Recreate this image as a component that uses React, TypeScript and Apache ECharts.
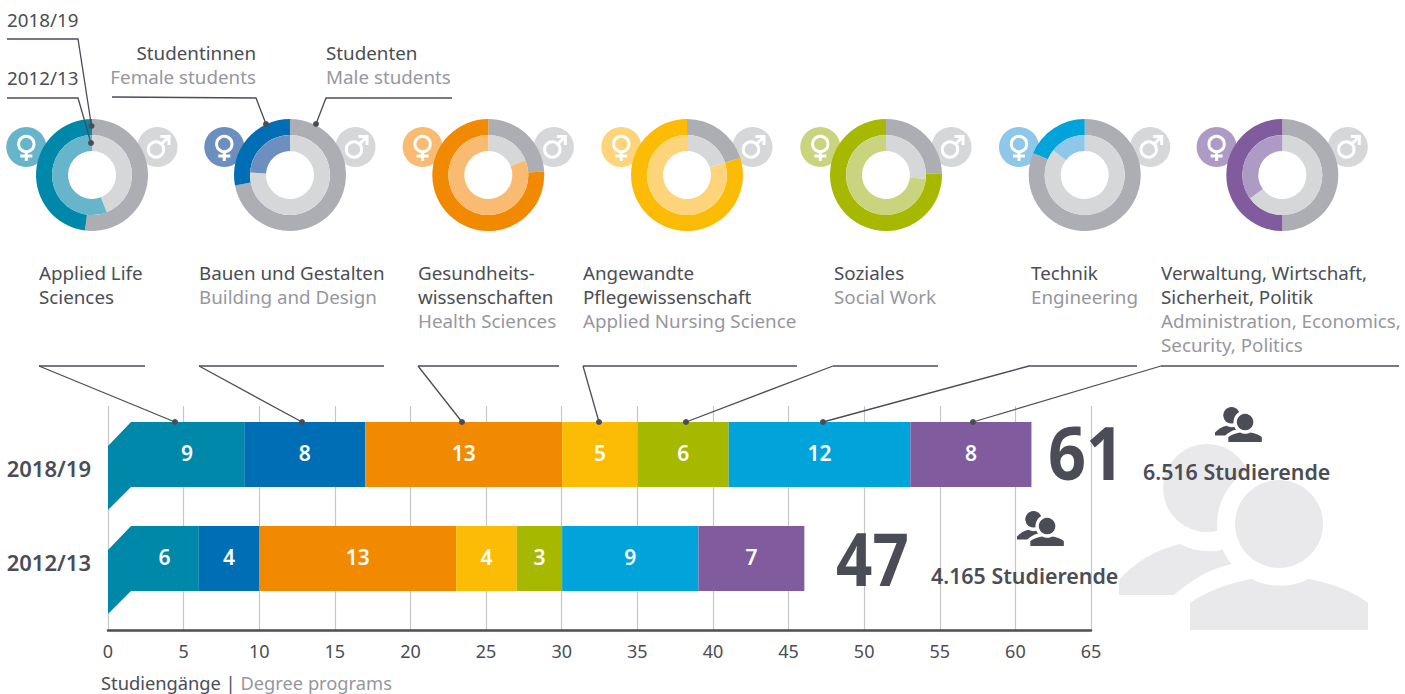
import React, { useEffect, useRef } from "react";
import * as echarts from "echarts";

const years = ["2018/19", "2012/13"];
const totals = ["61", "47"];
const studentCounts = ["6.516 Studierende", "4.165 Studierende"];
const axisTicks = 65;

const programmes = [
  { de: ["Applied Life", "Sciences"], en: [] as string[] },
  { de: ["Bauen und Gestalten"], en: ["Building and Design"] },
  { de: ["Gesundheits-", "wissenschaften"], en: ["Health Sciences"] },
  { de: ["Angewandte", "Pflegewissenschaft"], en: ["Applied Nursing Science"] },
  { de: ["Soziales"], en: ["Social Work"] },
  { de: ["Technik"], en: ["Engineering"] },
  { de: ["Verwaltung, Wirtschaft,", "Sicherheit, Politik"], en: ["Administration, Economics,", "Security, Politics"] },
];
const labelX = [39, 199, 418, 583, 834, 1031, 1161];

const programs2018 = [9, 8, 13, 5, 6, 12, 8];
const programs2012 = [6, 4, 13, 4, 3, 9, 7];
const femaleShare2018 = [48, 28, 76, 80, 75.5, 18.6, 50];
const femaleShare2012 = [56, 24, 81, 80, 73.4, 14.4, 35];

const darkColors = ["#0088ab", "#006eb5", "#f18a00", "#fcbb05", "#a6b900", "#00a3da", "#805c9e"];
const lightColors = ["#66b5cb", "#6d8fbf", "#f9bb72", "#fdd47a", "#cad47f", "#8ec7ea", "#ae9bc5"];
const donutX = [92, 290, 488.3, 687, 886, 1084.7, 1282.3];
const donutY = 175;

const DARK = "#4a4d55";
const GREY = "#96979f";
const FONT = "'Noto Sans', sans-serif";

const backBody = "M1119 595 L1119 580 C1135 562 1155 550 1180 544 C1190 550 1212 554 1223 549 C1226 555 1228 560 1232 564 C1205 570 1190 582 1174 595 Z";
const frontBody = "M1190 630 L1190 603 C1205 592 1228 583 1252 579 C1268 588 1292 588 1308 579 C1332 583 1355 592 1368 603 L1368 630 Z";
echarts.graphic.registerShape("personBack", echarts.graphic.extendPath(backBody, {}));
echarts.graphic.registerShape("personFront", echarts.graphic.extendPath(frontBody, {}));

function txt(x: number, y: number, text: string, fill: string, extra: any = {}, el: any = {}) {
  return {
    type: "text",
    x,
    y,
    z: 20,
    ...el,
    style: { text, fill, font: `400 18.8px ${FONT}`, textAlign: "left", textVerticalAlign: "middle", ...extra },
  };
}

function personIcon(x: number, y: number, s: number, color: string, z: number) {
  return {
    type: "group",
    x: x - 1119 * s,
    y: y - 630 * s,
    scaleX: s,
    scaleY: s,
    children: [
      { type: "circle", z, shape: { cx: 1207, cy: 488, r: 44 }, style: { fill: color } },
      { type: "personBack", z, style: { fill: color } },
      { type: "circle", z: z + 1, shape: { cx: 1279, cy: 524, r: 62 }, style: { fill: "#fff" } },
      { type: "circle", z: z + 2, shape: { cx: 1279, cy: 524, r: 44 }, style: { fill: color } },
      { type: "personFront", z: z + 2, style: { fill: color } },
    ],
  };
}

function leader(points: number[][], dot: boolean = true) {
  const last = points[points.length - 1];
  const out: any[] = [
    { type: "polyline", z: 15, shape: { points }, style: { stroke: DARK, lineWidth: 1.3, fill: null } },
  ];
  if (dot) out.push({ type: "circle", z: 16, shape: { cx: last[0], cy: last[1], r: 3 }, style: { fill: DARK } });
  return out;
}

function genderSymbols(i: number) {
  const fx = donutX[i] - 65.7;
  const mx = donutX[i] + 65.5;
  const cy = 147;
  const stroke = { stroke: "#fff", lineWidth: 3, fill: null };
  return [
    { type: "circle", z: 0, shape: { cx: fx, cy, r: 20 }, style: { fill: lightColors[i] } },
    { type: "circle", z: 1, shape: { cx: fx, cy: cy - 3, r: 7.7 }, style: stroke },
    { type: "line", z: 1, shape: { x1: fx, y1: cy + 5, x2: fx, y2: cy + 14 }, style: stroke },
    { type: "line", z: 1, shape: { x1: fx - 6, y1: cy + 9, x2: fx + 6, y2: cy + 9 }, style: stroke },
    { type: "circle", z: 0, shape: { cx: mx, cy, r: 20 }, style: { fill: "#d6d7d9" } },
    { type: "circle", z: 1, shape: { cx: mx - 1.5, cy: cy + 2.5, r: 7.7 }, style: stroke },
    { type: "line", z: 1, shape: { x1: mx + 4, y1: cy - 3, x2: mx + 11, y2: cy - 10 }, style: stroke },
    { type: "polyline", z: 1, shape: { points: [[mx + 3, cy - 10.5], [mx + 11.5, cy - 10.5], [mx + 11.5, cy - 2]] }, style: stroke },
  ];
}

function programmeLabels() {
  const out: any[] = [];
  programmes.forEach((p, i) => {
    let y = 273;
    p.de.forEach((line) => { out.push(txt(labelX[i], y, line, DARK)); y += 24; });
    p.en.forEach((line) => { out.push(txt(labelX[i], y, line, GREY)); y += 24; });
  });
  return out;
}

const leaderLines = [
  [[39, 366], [145, 366]],
  [[199, 366], [384, 366]],
  [[418, 366], [559, 366]],
  [[583, 366], [797, 366]],
  [[938, 366], [833, 366]],
  [[1137, 366], [1029, 366]],
  [[1399, 366], [1161, 366]],
];
const leaderTargets = [[175, 422], [302, 422], [462, 422], [599, 422], [686, 422], [823, 422], [973, 422]];
const leaderStart = [0, 0, 0, 0, 1, 1, 1];

function flagItem(params: any, api: any) {
  const cat = api.value(1);
  const start = api.coord([0, cat]);
  const end = api.coord([api.value(0), cat]);
  const h = 32.5;
  return {
    type: "polygon",
    shape: {
      points: [
        [start[0], start[1] - h + 24],
        [start[0] + 23, start[1] - h],
        [end[0], start[1] - h],
        [end[0], start[1] + h],
        [start[0] + 23, start[1] + h],
        [start[0], start[1] + h + 23],
      ],
    },
    style: { fill: darkColors[0] },
  };
}

export default function App() {
  const ref = useRef<HTMLDivElement>(null);
  useEffect(() => {
    document.body.style.margin = "0";
    const chart = echarts.init(ref.current!, null, { renderer: "svg" });

    const bars = programmes.map((_, i) => ({
      type: "bar",
      name: programmes[i].de.join(" "),
      xAxisIndex: 1,
      yAxisIndex: 1,
      stack: "total",
      barWidth: 65,
      z: 3,
      silent: true,
      data: [programs2018[i], programs2012[i]],
      itemStyle: { color: i === 0 ? "rgba(0,0,0,0)" : darkColors[i] },
      label: {
        show: true,
        position: "inside",
        offset: i === 0 ? [11, -1.5] : [0, -1.5],
        color: "#fff",
        fontFamily: FONT,
        fontWeight: 600,
        fontSize: 21,
      },
    }));

    const pies: any[] = [];
    programmes.forEach((_, i) => {
      pies.push({
        type: "pie", silent: true, center: [donutX[i], donutY], radius: [40, 56], startAngle: 90, z: 5,
        label: { show: false }, labelLine: { show: false },
        data: [
          { value: 100 - femaleShare2018[i], itemStyle: { color: "#adaeb3" } },
          { value: femaleShare2018[i], itemStyle: { color: darkColors[i] } },
        ],
      });
      pies.push({
        type: "pie", silent: true, center: [donutX[i], donutY], radius: [24, 40], startAngle: 90, z: 5,
        label: { show: false }, labelLine: { show: false },
        data: [
          { value: 100 - femaleShare2012[i], itemStyle: { color: "#d6d7d9" } },
          { value: femaleShare2012[i], itemStyle: { color: lightColors[i] } },
        ],
      });
    });

    const elements: any[] = [
      personIcon(1119, 630, 1, "#e9e9eb", -10),
      personIcon(1215, 442, 0.188, DARK, 12),
      personIcon(1017, 546, 0.188, DARK, 12),
      ...programmes.flatMap((_, i) => genderSymbols(i)),
      ...programmeLabels(),
      txt(7, 20, years[0], DARK),
      txt(7, 78, years[1], DARK),
      txt(256, 53, "Studentinnen", DARK, { textAlign: "right" }),
      txt(256, 77, "Female students", GREY, { textAlign: "right" }),
      txt(326, 53, "Studenten", DARK),
      txt(326, 77, "Male students", GREY),
      ...leader([[7, 39], [78, 39], [91.5, 126]]),
      ...leader([[7, 98], [78, 98], [91, 143]]),
      ...leader([[112, 97], [256, 98], [266, 124]]),
      ...leader([[452, 98], [326, 98], [316, 124]]),
      ...leaderLines.flatMap((l, i) => [
        ...leader(l, false),
        ...leader([l[leaderStart[i]], leaderTargets[i]]),
      ]),
      txt(1048, 452, totals[0], DARK, { font: `700 74px ${FONT}` }, { scaleX: 0.9 }),
      txt(836, 557, totals[1], DARK, { font: `700 74px ${FONT}` }, { scaleX: 0.86 }),
      txt(1143, 471, studentCounts[0], DARK, { font: `600 21.4px ${FONT}` }),
      txt(931, 575, studentCounts[1], DARK, { font: `600 21.4px ${FONT}` }),
      {
        type: "text", x: 101, y: 682.5, z: 20,
        style: {
          text: "{a|Studiengänge | }{b|Degree programs}",
          textVerticalAlign: "middle",
          rich: {
            a: { fill: DARK, font: `400 18.3px ${FONT}`, lineHeight: 20 },
            b: { fill: GREY, font: `400 18.3px ${FONT}`, lineHeight: 20 },
          },
        },
      },
    ];

    chart.setOption({
      animation: false,
      grid: [
        { left: 108, width: 983, top: 406, height: 224 },
        { left: 108, width: 984, top: 402.5, height: 208 },
      ],
      xAxis: [
        {
          type: "value", gridIndex: 0, min: 0, max: axisTicks, interval: 5,
          axisLine: { show: true, lineStyle: { color: DARK, width: 2.5 } },
          axisTick: { show: false },
          splitLine: { show: true, lineStyle: { color: "#c6c7ca", width: 1.2 } },
          axisLabel: { color: DARK, fontFamily: FONT, fontSize: 18, margin: 12 },
        },
        { type: "value", gridIndex: 1, min: 0, max: axisTicks, interval: 5, show: false },
      ],
      yAxis: [
        { type: "value", gridIndex: 0, show: false },
        {
          type: "category", gridIndex: 1, inverse: true, data: years,
          axisLine: { show: false }, axisTick: { show: false },
          axisLabel: {
            margin: 17,
            formatter: (v: string) => (v === years[0] ? `{a|${v}}` : `{b|${v}}`),
            rich: {
              a: { color: DARK, fontFamily: FONT, fontWeight: 600, fontSize: 22, padding: [27, 0, 0, 0] },
              b: { color: DARK, fontFamily: FONT, fontWeight: 600, fontSize: 22, padding: [7, 0, 0, 0] },
            },
          },
        },
      ],
      series: [
        {
          type: "custom", xAxisIndex: 1, yAxisIndex: 1, z: 2, silent: true, renderItem: flagItem,
          encode: { x: 0, y: 1 },
          data: [[programs2018[0], 0], [programs2012[0], 1]],
        },
        ...bars,
        ...pies,
      ],
      graphic: { elements },
    });
    return () => chart.dispose();
  }, []);
  return <div ref={ref} style={{ width: 1405, height: 694, overflow: "hidden" }} />;
}
